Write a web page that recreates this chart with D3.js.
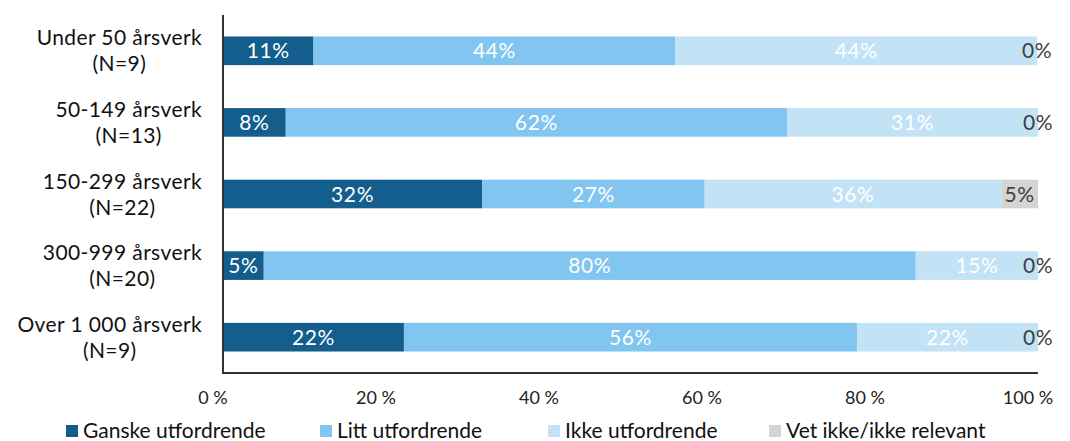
<!DOCTYPE html>
<html lang="no">
  <head>
    <meta charset="UTF-8" />
    <title>Årsverk stacked bars</title>
    <script src="https://d3js.org/d3.v7.min.js"></script>
    <style>
      body {
        margin: 0;
        font-family: "Lato", sans-serif;
        background: #fff;
      }
      svg text {
        font-family: "Lato", sans-serif;
      }
    </style>
  </head>
  <body>
    <svg width="1070" height="441"></svg>

    <script>
      const categories = [
        ["Under 50 årsverk", "(N=9)"],
        ["50-149 årsverk", "(N=13)"],
        ["150-299 årsverk", "(N=22)"],
        ["300-999 årsverk", "(N=20)"],
        ["Over 1 000 årsverk", "(N=9)"],
      ];
      const seriesNames = ["Ganske utfordrende", "Litt utfordrende", "Ikke utfordrende", "Vet ikke/ikke relevant"];
      const ganske = [11.1, 7.7, 31.8, 5.0, 22.2];
      const litt = [44.4, 61.5, 27.3, 80.0, 55.6];
      const ikke = [44.4, 30.8, 36.4, 15.0, 22.2];
      const vetIkke = [0, 0, 4.5, 0, 0];
      const tickValues = [0, 20, 40, 60, 80, 100];
      const colors = ["#135e8d", "#82c5f0", "#c2e3f6", "#d4d4d4"];
      const labelColors = ["#fff", "#fff", "#fff", "#404040"];

      const series = [ganske, litt, ikke, vetIkke];
      const rows = categories.map((c, i) => {
        const r = {idx: i};
        series.forEach((s, k) => (r["s" + k] = s[i]));
        return r;
      });
      const keys = series.map((s, k) => "s" + k);

      const svg = d3.select("svg");
      const plotLeft = 223, plotRight = 1038, plotTop = 15, plotBottom = 373;

      const x = d3.scaleLinear().domain([0, 100]).range([plotLeft, plotRight]);
      const y = d3.scaleBand().domain(d3.range(categories.length)).range([plotTop, plotBottom]).paddingInner(0.6).paddingOuter(0.3);

      const stacked = d3.stack().keys(keys)(rows);

      // bars
      stacked.forEach((layer, k) => {
        svg.append("g")
          .selectAll("rect")
          .data(layer)
          .join("rect")
          .attr("x", (d) => x(d[0]))
          .attr("width", (d) => x(d[1]) - x(d[0]))
          .attr("y", (d, i) => y(i))
          .attr("height", y.bandwidth())
          .attr("fill", colors[k]);
      });

      // value labels
      stacked.forEach((layer, k) => {
        svg.append("g")
          .selectAll("text")
          .data(layer)
          .join("text")
          .attr("x", (d) => x((d[0] + d[1]) / 2))
          .attr("y", (d, i) => y(i) + y.bandwidth() / 2)
          .attr("dy", "0.36em")
          .attr("text-anchor", "middle")
          .attr("font-size", 21)
          .attr("letter-spacing", 0.6)
          .attr("fill", (d) => (d[1] - d[0] === 0 ? "#404040" : labelColors[k]))
          .text((d) => Math.round(d[1] - d[0]) + "%");
      });

      // axis lines
      svg.append("line")
        .attr("x1", plotLeft).attr("x2", plotLeft)
        .attr("y1", plotTop).attr("y2", plotBottom)
        .attr("stroke", "#333").attr("stroke-width", 2);
      svg.append("line")
        .attr("x1", plotLeft - 1).attr("x2", plotRight)
        .attr("y1", plotBottom).attr("y2", plotBottom)
        .attr("stroke", "#333").attr("stroke-width", 2);

      // x tick labels
      svg.append("g")
        .selectAll("text")
        .data(tickValues)
        .join("text")
        .attr("x", (d) => x(d) - 10)
        .attr("y", 398)
        .attr("dy", "0.36em")
        .attr("text-anchor", "middle")
        .attr("font-size", 18)
        .attr("fill", "#222")
        .text((d) => d + " %");

      // category labels: block right-aligned, lines centered within block
      categories.forEach((c, i) => {
        const cy = y(i) + y.bandwidth() / 2;
        const g = svg.append("g");
        const t1 = g.append("text")
          .attr("font-size", 21).attr("letter-spacing", 0.4).attr("fill", "#111")
          .attr("y", cy - 13).attr("dy", "0.36em")
          .text(c[0]);
        const w = t1.node().getComputedTextLength();
        const cx = 202 - w / 2;
        t1.attr("x", cx).attr("text-anchor", "middle");
        g.append("text")
          .attr("font-size", 21).attr("letter-spacing", 0.4).attr("fill", "#111")
          .attr("x", cx).attr("y", cy + 13).attr("dy", "0.36em")
          .attr("text-anchor", "middle")
          .text(c[1]);
      });

      // legend
      const legendX = [66, 320, 548, 769];
      const legend = svg.append("g")
        .selectAll("g")
        .data(seriesNames)
        .join("g")
        .attr("transform", (d, i) => `translate(${legendX[i]},430)`);
      legend.append("rect")
        .attr("x", 0).attr("y", -5)
        .attr("width", 12).attr("height", 12)
        .attr("fill", (d, i) => colors[i]);
      legend.append("text")
        .attr("x", 17).attr("dy", "0.36em")
        .attr("font-size", 21).attr("fill", "#111")
        .text((d) => d);
    </script>
  </body>
</html>
